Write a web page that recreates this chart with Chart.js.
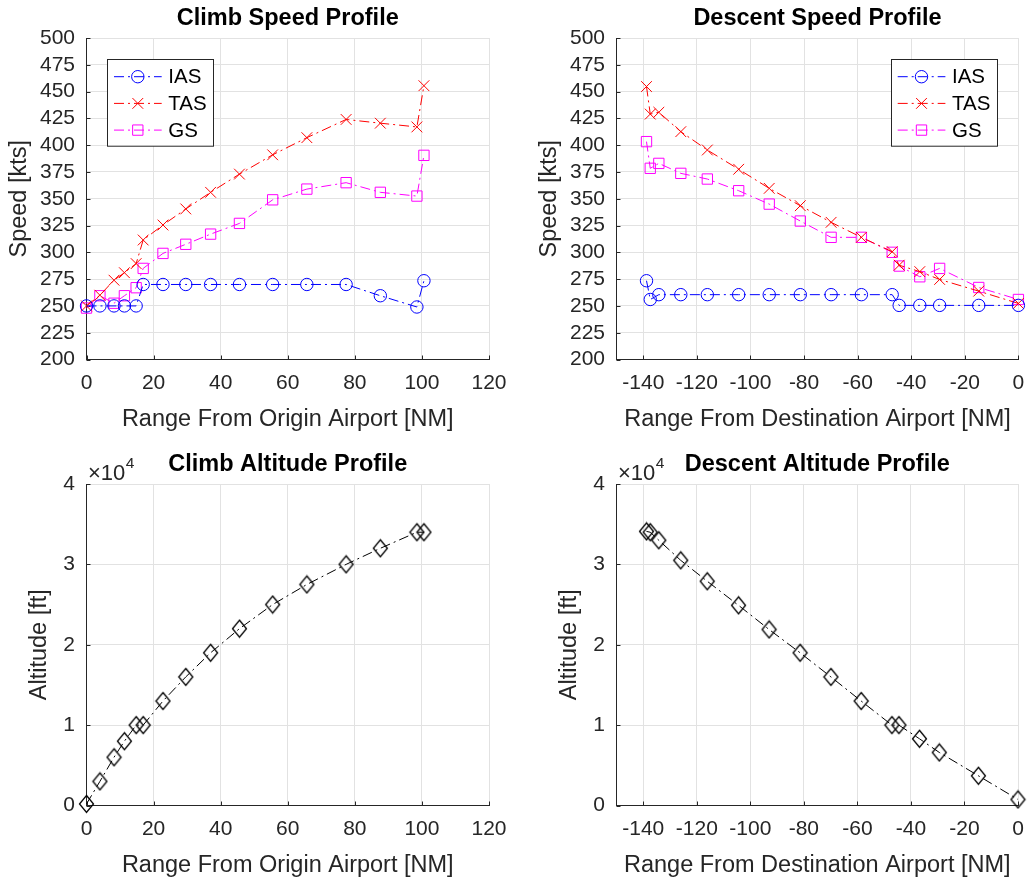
<!DOCTYPE html>
<html><head><meta charset="utf-8">
<script src="https://cdn.jsdelivr.net/npm/chart.js@4/dist/chart.umd.min.js"></script>
<style>
html,body{margin:0;padding:0;background:#fff;}
#wrap{position:relative;width:1027px;height:880px;background:#fff;overflow:hidden;}
canvas{position:absolute;}
</style></head><body>
<div id="wrap">
<canvas id="c1" width="530" height="434" style="left:0;top:0;width:530px;height:434px"></canvas>
<canvas id="c2" width="497" height="434" style="left:530px;top:0;width:497px;height:434px"></canvas>
<canvas id="c3" width="530" height="434" style="left:0;top:446px;width:530px;height:434px"></canvas>
<canvas id="c4" width="497" height="434" style="left:530px;top:446px;width:497px;height:434px"></canvas>
</div>
<script>
// ---- data ----
const climbRange = [0, 4.0, 8.2, 11.3, 14.8, 16.9, 22.8, 29.6, 37.0, 45.6, 55.5, 65.7, 77.4, 87.6, 98.5, 100.6];
const climbIAS = [250, 250, 250, 250, 250, 270, 270, 270, 270, 270, 270, 270, 270, 259.5, 249, 273.5];
const climbTAS = [250, 260, 274, 281, 289.5, 311.5, 325.5, 340.5, 356, 373, 391, 407, 424, 420.5, 417, 455.5];
const climbGS  = [248, 259.5, 252.5, 259.5, 267, 285, 299, 307.5, 317, 327, 349, 359, 365, 356, 352.5, 390.5];
const climbAlt = [200, 3000, 6000, 8000, 10000, 10000, 13000, 16000, 19000, 22000, 25000, 27500, 30000, 32000, 34000, 34000];

const descentRange = [-138.8, -137.4, -134.2, -126.0, -116.1, -104.4, -93.0, -81.4, -69.9, -58.6, -47.1, -44.5, -36.8, -29.4, -14.8, 0];
const descentIAS = [273.5, 256, 260.5, 260.5, 260.5, 260.5, 260.5, 260.5, 260.5, 260.5, 260.5, 250.5, 250.5, 250.5, 250.5, 250.5];
const descentTAS = [454.7, 429, 430.7, 412.6, 395.5, 377.5, 359.7, 343.5, 328, 314, 300.6, 288, 282, 274.7, 263.8, 252.3];
const descentGS  = [403.3, 378.4, 383, 373.7, 368.4, 357.5, 345, 329.2, 314, 314, 300, 287.2, 277.2, 285, 267.2, 256];
const descentAlt = [34100, 34000, 33000, 30500, 27900, 24900, 21900, 19000, 16000, 13000, 10000, 10000, 8300, 6600, 3700, 750];

const speedTicks = [200, 225, 250, 275, 300, 325, 350, 375, 400, 425, 450, 475, 500];
const speedTickLabels = ['200','225','250','275','300','325','350','375','400','425','450','475','500'];
const altTicks = [0, 10000, 20000, 30000, 40000];
const altTickLabels = ['0','1','2','3','4'];
const climbXTicks = [0, 20, 40, 60, 80, 100, 120];
const climbXTickLabels = ['0','20','40','60','80','100','120'];
const descentXTicks = [-140, -120, -100, -80, -60, -40, -20, 0];
const descentXTickLabels = ['-140','-120','-100','-80','-60','-40','-20','0'];
const seriesNames = ['IAS', 'TAS', 'GS'];

// ---- style ----
const FONT = "'Liberation Sans', Arial, Helvetica, sans-serif";
const AX = '#262626';
const GRID = '#e2e2e2';
const DASH = [10, 4, 2, 4];
const PLOT_BOTTOM = 359.5;
const PLOT_RIGHT = 489;
const CANVAS_H = 434;
const Y_AXIS_W = 86.5;

function pts(xs, ys) { return xs.map((x, i) => ({ x: x, y: ys[i] })); }

// Diamond marker (MATLAB style, slightly taller than wide)
const diamond = document.createElement('canvas');
diamond.width = 17; diamond.height = 20;
(function () {
  const g = diamond.getContext('2d');
  g.strokeStyle = '#000'; g.lineWidth = 1.3;
  g.beginPath();
  g.moveTo(8.5, 1.5); g.lineTo(15.5, 10); g.lineTo(8.5, 18.5); g.lineTo(1.5, 10); g.closePath();
  g.stroke();
})();

function speedSets(xs, ias, tas, gs) {
  return [
    { label: seriesNames[0], data: pts(xs, ias), borderColor: '#0000ff', pointStyle: 'circle', pointRadius: 6.2 },
    { label: seriesNames[1], data: pts(xs, tas), borderColor: '#ff0000', pointStyle: 'crossRot', pointRadius: 7.6 },
    { label: seriesNames[2], data: pts(xs, gs), borderColor: '#ff00ff', pointStyle: 'rect', pointRadius: 7.3 }
  ].map(d => Object.assign(d, {
    showLine: true, borderWidth: 1, borderDash: DASH, tension: 0, clip: false,
    pointBorderColor: d.borderColor, pointBackgroundColor: 'rgba(0,0,0,0)', pointBorderWidth: 1
  }));
}

function altSet(xs, alt) {
  return [{ label: 'Altitude', data: pts(xs, alt), showLine: true, borderColor: '#000', borderWidth: 1,
    borderDash: DASH, tension: 0, clip: false, pointStyle: diamond, pointRadius: 8,
    pointBorderColor: '#000', pointBackgroundColor: 'rgba(0,0,0,0)' }];
}

function xScale(min, max, ticks, labels, title) {
  return {
    type: 'linear', min: min, max: max,
    afterBuildTicks: s => { s.ticks = ticks.map(v => ({ value: v })); },
    afterFit: s => { s.height = CANVAS_H - PLOT_BOTTOM; s.paddingLeft = 0; s.paddingRight = 0; s.paddingTop = 0; s.paddingBottom = 0; },
    grid: { color: GRID, lineWidth: 1, drawTicks: false },
    border: { color: AX, width: 1 },
    ticks: { font: { family: FONT, size: 21 }, color: AX, padding: 10.9, maxRotation: 0, autoSkip: false,
      callback: (v, i) => labels[i] },
    title: { display: true, text: title, font: { family: FONT, size: 23.5 }, color: AX, padding: { top: 0, bottom: 0.6 } }
  };
}
function yScale(min, max, ticks, labels, title, titlePad) {
  return {
    type: 'linear', min: min, max: max,
    afterBuildTicks: s => { s.ticks = ticks.map(v => ({ value: v })); },
    afterFit: s => { s.width = Y_AXIS_W; s.paddingLeft = 0; s.paddingRight = 0; s.paddingTop = 0; s.paddingBottom = 0; },
    grid: { color: GRID, lineWidth: 1, drawTicks: false },
    border: { color: AX, width: 1 },
    ticks: { font: { family: FONT, size: 21 }, color: AX, padding: 11.5, autoSkip: false,
      callback: (v, i) => labels[i] },
    title: { display: true, text: title, font: { family: FONT, size: 23.5 }, color: AX, padding: { top: titlePad, bottom: 0 } }
  };
}

// inward tick marks like MATLAB
const inTicks = {
  id: 'inTicks',
  beforeDatasetsDraw(chart) {
    const ctx = chart.ctx, a = chart.chartArea, L = 4;
    ctx.save();
    ctx.strokeStyle = AX; ctx.lineWidth = 1;
    ctx.beginPath();
    chart.scales.y.ticks.forEach(t => {
      const y = Math.round(chart.scales.y.getPixelForValue(t.value)) + 0.5;
      ctx.moveTo(a.left, y); ctx.lineTo(a.left + L, y);
    });
    chart.scales.x.ticks.forEach(t => {
      const x = Math.round(chart.scales.x.getPixelForValue(t.value)) + 0.5;
      ctx.moveTo(x, a.bottom); ctx.lineTo(x, a.bottom - L);
    });
    ctx.stroke();
    ctx.restore();
  }
};

function drawMarker(ctx, style, x, y, r) {
  ctx.beginPath();
  if (style === 'circle') { ctx.arc(x, y, r, 0, Math.PI * 2); }
  else if (style === 'crossRot') { const o = Math.SQRT1_2 * r; ctx.moveTo(x - o, y - o); ctx.lineTo(x + o, y + o); ctx.moveTo(x + o, y - o); ctx.lineTo(x - o, y + o); }
  else if (style === 'rect') { const s = Math.SQRT1_2 * r; ctx.rect(x - s, y - s, 2 * s, 2 * s); }
  ctx.stroke();
}

const mlLegend = {
  id: 'mlLegend',
  afterDraw(chart, args, opts) {
    if (!opts || !opts.show) return;
    const ctx = chart.ctx, a = chart.chartArea;
    const W = 106, H = 86.7;
    const left = opts.side === 'right' ? a.right - 21.4 - W : a.left + 20.8;
    const top = a.top + 21.3;
    ctx.save();
    ctx.fillStyle = '#fff';
    ctx.fillRect(left, top, W, H);
    ctx.strokeStyle = AX; ctx.lineWidth = 1;
    ctx.strokeRect(Math.round(left) + 0.5, Math.round(top) + 0.5, W, H);
    chart.data.datasets.forEach((d, i) => {
      const yy = top + 17.4 + i * 26.7;
      ctx.strokeStyle = d.borderColor; ctx.lineWidth = 1;
      ctx.setLineDash(DASH);
      ctx.beginPath(); ctx.moveTo(left + 6.7, yy); ctx.lineTo(left + 54.4, yy); ctx.stroke();
      ctx.setLineDash([]);
      drawMarker(ctx, d.pointStyle, left + 30.5, yy, d.pointRadius);
      ctx.fillStyle = '#000';
      ctx.font = '20.5px ' + FONT;
      ctx.textBaseline = 'middle'; ctx.textAlign = 'left';
      ctx.fillText(d.label, left + 61, yy + 1);
    });
    ctx.restore();
  }
};

const expLabel = {
  id: 'expLabel',
  afterDraw(chart, args, opts) {
    if (!opts || !opts.show) return;
    const ctx = chart.ctx, a = chart.chartArea;
    ctx.save();
    ctx.fillStyle = AX;
    ctx.textBaseline = 'middle'; ctx.textAlign = 'left';
    ctx.font = '22px ' + FONT;
    const base = '\u00d710';
    const x0 = a.left + 1.5;
    ctx.fillText(base, x0, a.top - 10);
    const w = ctx.measureText(base).width;
    ctx.font = '15.5px ' + FONT;
    ctx.fillText('4', x0 + w + 0.5, a.top - 20);
    ctx.restore();
  }
};

function makeChart(id, title, datasets, xs, ys, legendSide, showExp) {
  const cv = document.getElementById(id);
  return new Chart(cv, {
    type: 'scatter',
    data: { datasets: datasets },
    options: {
      responsive: false, animation: false, events: [],
      layout: { padding: { left: 0, right: cv.width - PLOT_RIGHT, top: 0, bottom: 0 } },
      scales: { x: xs, y: ys },
      plugins: {
        legend: { display: false },
        tooltip: { enabled: false },
        title: { display: true, text: title, fullSize: false, color: '#000',
          font: { family: FONT, size: 23.5, weight: 'bold' }, padding: { top: 4.9, bottom: 4.9 } },
        mlLegend: { show: !!legendSide, side: legendSide },
        expLabel: { show: !!showExp }
      }
    },
    plugins: [inTicks, mlLegend, expLabel]
  });
}

makeChart('c1', 'Climb Speed Profile', speedSets(climbRange, climbIAS, climbTAS, climbGS),
  xScale(0, 120, climbXTicks, climbXTickLabels, 'Range From Origin Airport [NM]'),
  yScale(200, 500, speedTicks, speedTickLabels, 'Speed [kts]', 5.2), 'left', false);

makeChart('c2', 'Descent Speed Profile', speedSets(descentRange, descentIAS, descentTAS, descentGS),
  xScale(-150, 0, descentXTicks, descentXTickLabels, 'Range From Destination Airport [NM]'),
  yScale(200, 500, speedTicks, speedTickLabels, 'Speed [kts]', 5.2), 'right', false);

makeChart('c3', 'Climb Altitude Profile', altSet(climbRange, climbAlt),
  xScale(0, 120, climbXTicks, climbXTickLabels, 'Range From Origin Airport [NM]'),
  yScale(0, 40000, altTicks, altTickLabels, 'Altitude [ft]', 25.9), null, true);

makeChart('c4', 'Descent Altitude Profile', altSet(descentRange, descentAlt),
  xScale(-150, 0, descentXTicks, descentXTickLabels, 'Range From Destination Airport [NM]'),
  yScale(0, 40000, altTicks, altTickLabels, 'Altitude [ft]', 25.9), null, true);
</script>
</body></html>
